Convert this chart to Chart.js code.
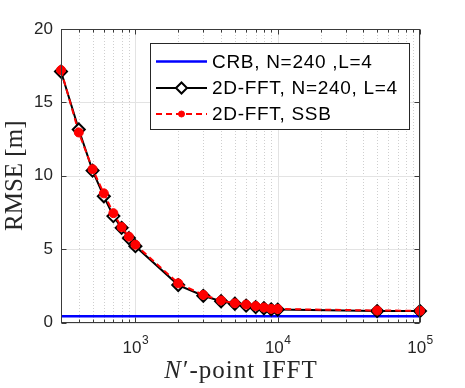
<!DOCTYPE html>
<html>
<head>
<meta charset="utf-8">
<script src="https://cdn.jsdelivr.net/npm/chart.js@4.4.0/dist/chart.umd.min.js"></script>
<style>
  html, body { margin: 0; padding: 0; background: #fff; }
  #wrap { width: 465px; height: 388px; }
</style>
</head>
<body>
<div id="wrap"><canvas id="rmseChart" width="465" height="388"></canvas></div>
<script>
// N'-point IFFT sizes
const nPoints = [300, 400, 500, 600, 700, 800, 900, 1000, 2000, 3000, 4000, 5000, 6000, 7000, 8000, 9000, 10000, 50000, 100000];
// CRB, N=240, L=4
const rmseCrb = [0.42, 0.42, 0.42, 0.42, 0.42, 0.42, 0.42, 0.42, 0.42, 0.42, 0.42, 0.42, 0.42, 0.42, 0.42, 0.42, 0.42, 0.42, 0.42];
// 2D-FFT, N=240, L=4
const rmseFft = [17.1, 13.15, 10.35, 8.6, 7.25, 6.45, 5.75, 5.2, 2.55, 1.82, 1.45, 1.28, 1.15, 1.05, 0.97, 0.9, 0.88, 0.78, 0.78];
// 2D-FFT, SSB
const rmseSsb = [17.2, 12.95, 10.45, 8.8, 7.45, 6.5, 5.85, 5.3, 2.67, 1.88, 1.5, 1.31, 1.22, 1.12, 1.02, 0.93, 0.92, 0.82, 0.8];

const yTicks = [0, 5, 10, 15, 20];
const xDecades = [3, 4, 5];
const seriesLabels = ['CRB, N=240 ,L=4', '2D-FFT, N=240, L=4', '2D-FFT, SSB'];

const axisColor = '#262626';
const sansFont = '"Liberation Sans", Arial, sans-serif';
const serifFont = '"Liberation Serif", "Times New Roman", serif';

function pts(ys) {
  return nPoints.map((x, i) => ({ x: x, y: ys[i] }));
}

// grid, box, ticks, x labels, legend (matlab look)
const matlabAxes = {
  id: 'matlabAxes',
  beforeDatasetsDraw(chart) {
    const ctx = chart.ctx;
    const a = chart.chartArea;
    const xs = chart.scales.x, ys = chart.scales.y;
    ctx.save();
    // minor x grid
    ctx.strokeStyle = '#cfcfcf';
    ctx.lineWidth = 1;
    ctx.setLineDash([1, 2]);
    for (let d = 100; d <= 10000; d *= 10) {
      for (let k = 2; k <= 9; k++) {
        const v = k * d;
        if (v < 300 || v > 100000) continue;
        const px = Math.round(xs.getPixelForValue(v)) + 0.5;
        ctx.beginPath(); ctx.moveTo(px, a.top); ctx.lineTo(px, a.bottom); ctx.stroke();
      }
    }
    // major grid
    ctx.setLineDash([]);
    ctx.strokeStyle = '#e3e3e3';
    xDecades.forEach(e => {
      const px = Math.round(xs.getPixelForValue(Math.pow(10, e))) + 0.5;
      ctx.beginPath(); ctx.moveTo(px, a.top); ctx.lineTo(px, a.bottom); ctx.stroke();
    });
    yTicks.forEach(t => {
      const py = Math.round(ys.getPixelForValue(t)) + 0.5;
      ctx.beginPath(); ctx.moveTo(a.left, py); ctx.lineTo(a.right, py); ctx.stroke();
    });
    ctx.restore();
  },
  afterDatasetsDraw(chart) {
    const ctx = chart.ctx;
    const a = chart.chartArea;
    const xs = chart.scales.x, ys = chart.scales.y;
    ctx.save();
    ctx.strokeStyle = '#3a3a3a';
    ctx.lineWidth = 1;
    const L = Math.round(a.left) + 0.5, R = Math.round(a.right) - 0.5;
    const T = Math.round(a.top) + 0.5, B = Math.round(a.bottom) - 0.5;
    ctx.strokeRect(L, T, R - L, B - T);
    // x ticks
    for (let d = 100; d <= 100000; d *= 10) {
      for (let k = 1; k <= 9; k++) {
        const v = k * d;
        if (v < 300 || v > 100000) continue;
        const len = k === 1 ? 5 : 3;
        const px = Math.round(xs.getPixelForValue(v)) + 0.5;
        ctx.beginPath();
        ctx.moveTo(px, B); ctx.lineTo(px, B - len);
        ctx.moveTo(px, T); ctx.lineTo(px, T + len);
        ctx.stroke();
      }
    }
    // y ticks
    yTicks.forEach(t => {
      const py = Math.round(ys.getPixelForValue(t)) + 0.5;
      ctx.beginPath();
      ctx.moveTo(L, py); ctx.lineTo(L + 5, py);
      ctx.moveTo(R, py); ctx.lineTo(R - 5, py);
      ctx.stroke();
    });
    // x tick labels 10^e
    ctx.fillStyle = axisColor;
    ctx.textBaseline = 'alphabetic';
    xDecades.forEach(e => {
      const px = xs.getPixelForValue(Math.pow(10, e));
      ctx.font = '17px ' + sansFont;
      const wb = ctx.measureText('10').width;
      ctx.font = '12px ' + sansFont;
      const we = ctx.measureText(String(e)).width;
      const x0 = px - (wb + we) / 2;
      ctx.font = '17px ' + sansFont;
      ctx.textAlign = 'left';
      ctx.fillText('10', x0, 353);
      ctx.font = '12px ' + sansFont;
      ctx.fillText(String(e), x0 + wb + 0.5, 344);
    });
    // x title: N'-point IFFT
    ctx.letterSpacing = '1px';
    ctx.font = 'italic 25px ' + serifFont;
    const wN = ctx.measureText('N').width;
    ctx.font = '25px ' + serifFont;
    const rest = '\u2032-point IFFT';
    const wR = ctx.measureText(rest).width;
    const cx = (a.left + a.right) / 2;
    const sx = cx - (wN + wR) / 2;
    ctx.font = 'italic 25px ' + serifFont;
    ctx.fillText('N', sx, 378);
    ctx.font = '25px ' + serifFont;
    ctx.fillText(rest, sx + wN + 1, 378);
    ctx.letterSpacing = '0px';

    // legend
    const bx = 150.5, by = 43.5, bw = 259, bh = 86;
    ctx.fillStyle = '#ffffff';
    ctx.fillRect(bx, by, bw, bh);
    ctx.strokeStyle = axisColor;
    ctx.lineWidth = 1;
    ctx.strokeRect(bx, by, bw, bh);
    const rows = [61.5, 88, 114];
    const ds = chart.data.datasets;
    rows.forEach((ry, i) => {
      const d = ds[i];
      ctx.strokeStyle = d.borderColor;
      ctx.lineWidth = d.borderWidth;
      ctx.setLineDash(d.borderDash || []);
      ctx.beginPath(); ctx.moveTo(156, ry); ctx.lineTo(207, ry); ctx.stroke();
      ctx.setLineDash([]);
      if (d.pointRadius > 0) {
        ctx.fillStyle = d.pointBackgroundColor;
        ctx.strokeStyle = d.pointBorderColor;
        ctx.lineWidth = d.pointBorderWidth;
        Chart.helpers.drawPoint(ctx, {
          pointStyle: d.pointStyle,
          radius: i === 1 ? 5.5 : 3,
          borderWidth: d.pointBorderWidth,
          rotation: 0
        }, 181.5, ry);
      }
      ctx.fillStyle = '#000';
      ctx.font = '19px ' + sansFont;
      ctx.letterSpacing = '0.7px';
      ctx.textAlign = 'left';
      ctx.textBaseline = 'middle';
      ctx.fillText(seriesLabels[i], 212, ry + 1);
      ctx.letterSpacing = '0px';
    });
    ctx.restore();
  }
};

const ctx = document.getElementById('rmseChart');
const rmseChart = new Chart(ctx, {
  type: 'line',
  data: {
    datasets: [{
      label: seriesLabels[0],
      data: pts(rmseCrb),
      borderColor: '#0000ff',
      borderWidth: 2.5,
      pointRadius: 0,
      order: 2,
      clip: false
    }, {
      label: seriesLabels[1],
      data: pts(rmseFft),
      borderColor: '#000000',
      borderWidth: 2,
      pointStyle: 'rectRot',
      pointRadius: 6,
      pointBorderWidth: 2,
      pointBorderColor: '#000000',
      pointBackgroundColor: '#ffffff',
      order: 1,
      clip: false
    }, {
      label: seriesLabels[2],
      data: pts(rmseSsb),
      borderColor: '#ff0000',
      borderWidth: 2,
      borderDash: [6, 4],
      pointStyle: 'circle',
      pointRadius: 4.5,
      pointBorderWidth: 1,
      pointBorderColor: '#ff0000',
      pointBackgroundColor: '#ff0000',
      order: 0,
      clip: false
    }]
  },
  options: {
    responsive: false,
    animation: false,
    devicePixelRatio: 1,
    layout: { padding: { top: 29, right: 45, left: 0, bottom: 0 } },
    scales: {
      x: {
        type: 'logarithmic',
        min: 300,
        max: 100000,
        ticks: { display: false },
        grid: { display: false, drawTicks: false },
        border: { display: false },
        afterFit(s) { s.height = 65.5; }
      },
      y: {
        type: 'linear',
        min: 0,
        max: 20,
        ticks: {
          stepSize: 5,
          padding: 8,
          color: axisColor,
          font: { family: sansFont, size: 17 }
        },
        grid: { display: false, drawTicks: false },
        border: { display: false },
        title: {
          display: true,
          text: 'RMSE [m]',
          color: axisColor,
          font: { family: serifFont, size: 25 },
          padding: { top: 0, bottom: 0 }
        },
        afterFit(s) { s.width = 61; }
      }
    },
    plugins: {
      legend: { display: false },
      tooltip: { enabled: false }
    }
  },
  plugins: [matlabAxes]
});
</script>
</body>
</html>
